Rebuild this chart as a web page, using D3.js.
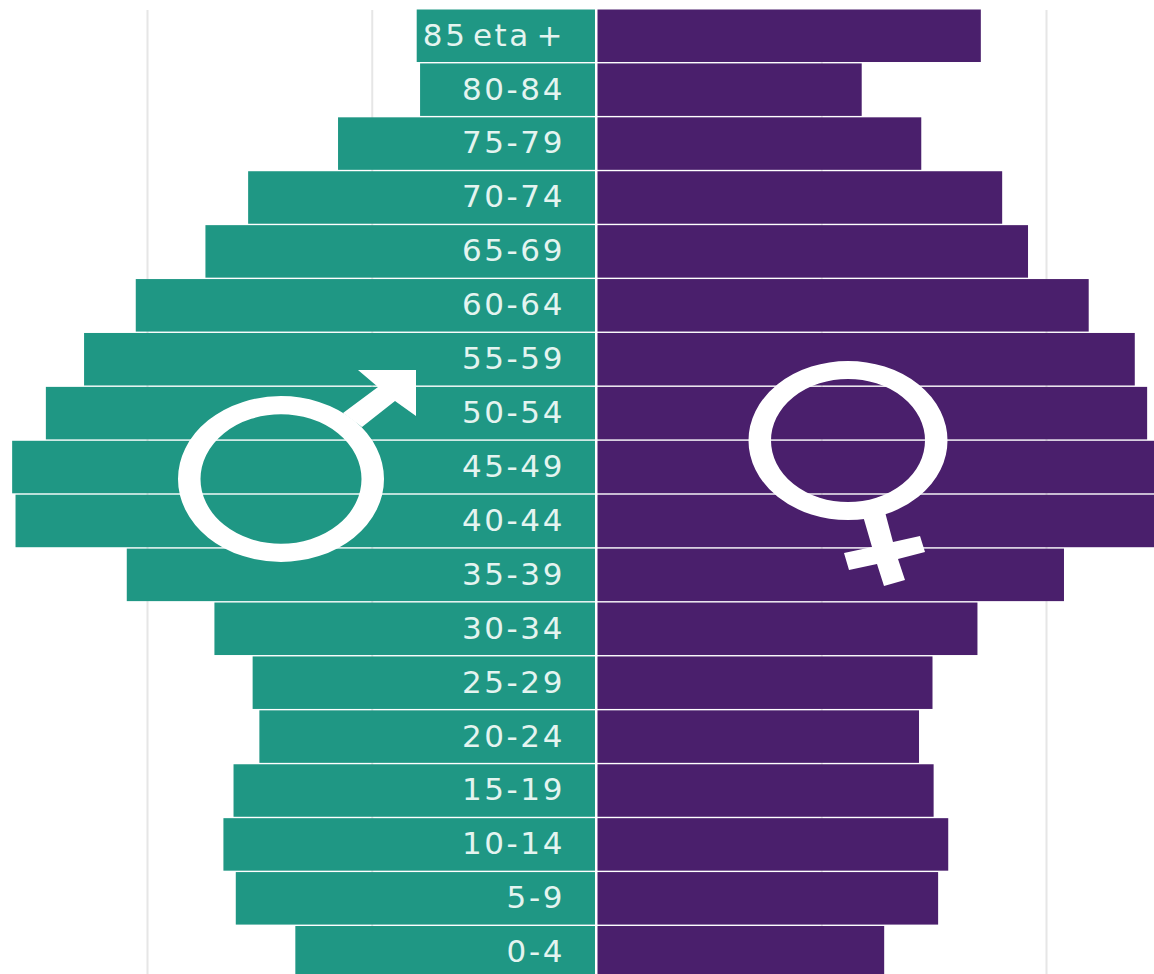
<!DOCTYPE html>
<html>
<head>
<meta charset="utf-8">
<script src="https://cdn.jsdelivr.net/npm/d3@7"></script>
<style>
  html, body { margin: 0; padding: 0; background: #fff; overflow: hidden; }
  svg { display: block; }
</style>
</head>
<body>
<svg id="chart" width="1154" height="974"></svg>
<script>
// age groups, top to bottom
const ages = ["85 eta +", "80-84", "75-79", "70-74", "65-69", "60-64", "55-59", "50-54", "45-49",
              "40-44", "35-39", "30-34", "25-29", "20-24", "15-19", "10-14", "5-9", "0-4"];

// share per age group
const males =   [0.80, 0.785, 1.15, 1.55, 1.74, 2.05, 2.28, 2.45, 2.60,
                 2.585, 2.09, 1.70, 1.53, 1.50, 1.615, 1.66, 1.605, 1.34];
const females = [1.71, 1.18, 1.445, 1.805, 1.92, 2.19, 2.395, 2.45, 2.51,
                 2.50, 2.08, 1.695, 1.495, 1.435, 1.50, 1.565, 1.52, 1.28];

const gridTicks = [-2, -1, 1, 2];

const width = 1154, height = 974;
const maleColor = "#1f9784", femaleColor = "#4a1f6c";

const svg = d3.select("#chart");

const x = d3.scaleLinear().domain([-2, 2]).range([147, 1046]);
const y = d3.scaleBand().domain(ages).range([9.5, 978.5]).paddingInner(0.026);

// grid
svg.append("g")
    .attr("transform", "translate(0,10)")
    .call(d3.axisBottom(x).tickValues(gridTicks).tickSize(height - 10).tickFormat(""))
    .call(g => g.select(".domain").remove())
    .call(g => g.selectAll("line").attr("stroke", "#e6e6e6").attr("stroke-width", 2));

// bars
svg.append("g").selectAll("rect")
    .data(males)
    .join("rect")
    .attr("x", d => x(-d))
    .attr("y", (d, i) => y(ages[i]))
    .attr("width", d => x(0) - x(-d) - 1.5)
    .attr("height", y.bandwidth())
    .attr("fill", maleColor);

svg.append("g").selectAll("rect")
    .data(females)
    .join("rect")
    .attr("x", x(0) + 1)
    .attr("y", (d, i) => y(ages[i]))
    .attr("width", d => x(d) - x(0) - 1)
    .attr("height", y.bandwidth())
    .attr("fill", femaleColor);

// age labels sit inside the male bars
svg.append("g")
    .attr("transform", "translate(573,0)")
    .call(d3.axisLeft(y).tickSize(0).tickPadding(8))
    .call(g => g.select(".domain").remove())
    .call(g => g.selectAll("text")
        .attr("fill", "#e4f4f0")
        .attr("font-family", "'DejaVu Sans', sans-serif")
        .attr("font-size", 31)
        .attr("letter-spacing", 2.6)
        .attr("word-spacing", -7));

// symbols: the ring is a circle squashed a little, so its stroke thins at top and bottom
function ring(cx, cy, r, sw, sy) {
    svg.append("circle")
        .attr("transform", `translate(${cx},${cy}) scale(1,${sy})`)
        .attr("r", r)
        .attr("fill", "none")
        .attr("stroke", "#fff")
        .attr("stroke-width", sw);
}

// male symbol
ring(281, 479, 91.75, 22.5, 0.805);
svg.append("path")
    .attr("fill", "#fff")
    .attr("d", "M343,413L378,387L358,370L416,370L416,416L395,401L362,427Z");

// female symbol
ring(848, 440.5, 88.25, 22.5, 0.8);
svg.append("path")
    .attr("fill", "#fff")
    .attr("d", "M863,516L885,512L893,542L920,536L925,552L898,559L905,580L884,586L877,564L849,570L844,553L872,547Z");
</script>
</body>
</html>
